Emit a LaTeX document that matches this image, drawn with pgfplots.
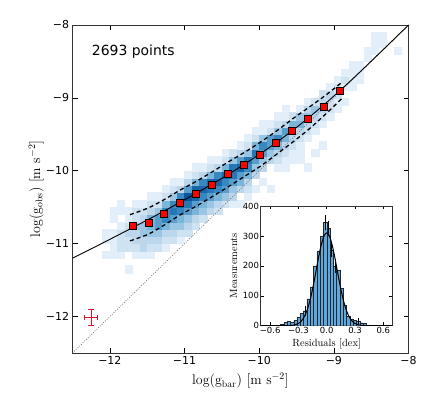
\documentclass[border=0pt]{standalone}
\usepackage{fontspec}
\usepackage{pgfplots}
\usepackage{pgfplotstable}
\pgfplotsset{compat=1.18}
\newfontfamily\dejavu{DejaVu Sans}
\definecolor{histblue}{RGB}{93,168,224}
\definecolor{errred}{RGB}{220,20,50}

\pgfplotstableread{
x y c
-12.05 -11.15 1
-12.05 -10.95 1
-12.05 -10.85 1
-11.95 -11.15 1
-11.95 -11.05 1
-11.95 -10.95 1
-11.95 -10.85 1
-11.95 -10.65 1
-11.95 -10.55 1
-11.85 -11.15 1
-11.85 -11.05 2
-11.85 -10.95 2
-11.85 -10.85 2
-11.85 -10.75 1
-11.85 -10.55 1
-11.85 -10.45 1
-11.75 -11.35 1
-11.75 -11.05 2
-11.75 -10.95 2
-11.75 -10.85 3
-11.75 -10.75 2
-11.75 -10.65 1
-11.75 -10.55 1
-11.65 -11.15 1
-11.65 -11.05 2
-11.65 -10.95 3
-11.65 -10.85 3
-11.65 -10.75 4
-11.65 -10.65 2
-11.65 -10.55 2
-11.65 -10.45 1
-11.55 -11.15 1
-11.55 -11.05 3
-11.55 -10.95 3
-11.55 -10.85 4
-11.55 -10.75 4
-11.55 -10.65 3
-11.55 -10.55 2
-11.55 -10.45 1
-11.45 -11.15 1
-11.45 -11.05 2
-11.45 -10.95 3
-11.45 -10.85 4
-11.45 -10.75 5
-11.45 -10.65 5
-11.45 -10.55 3
-11.45 -10.45 2
-11.45 -10.35 1
-11.35 -11.05 2
-11.35 -10.95 3
-11.35 -10.85 4
-11.35 -10.75 6
-11.35 -10.65 6
-11.35 -10.55 4
-11.35 -10.45 2
-11.35 -10.35 1
-11.25 -11.05 1
-11.25 -10.95 2
-11.25 -10.85 3
-11.25 -10.75 5
-11.25 -10.65 7
-11.25 -10.55 7
-11.25 -10.45 5
-11.25 -10.35 2
-11.25 -10.25 1
-11.15 -10.95 2
-11.15 -10.85 3
-11.15 -10.75 4
-11.15 -10.65 6
-11.15 -10.55 8
-11.15 -10.45 7
-11.15 -10.35 4
-11.15 -10.25 2
-11.15 -10.15 1
-11.05 -10.95 1
-11.05 -10.85 2
-11.05 -10.75 4
-11.05 -10.65 5
-11.05 -10.55 7
-11.05 -10.45 9
-11.05 -10.35 7
-11.05 -10.25 3
-11.05 -10.15 1
-10.95 -10.85 2
-10.95 -10.75 3
-10.95 -10.65 4
-10.95 -10.55 6
-10.95 -10.45 8
-10.95 -10.35 10
-10.95 -10.25 6
-10.95 -10.15 3
-10.95 -10.05 1
-10.85 -10.75 2
-10.85 -10.65 3
-10.85 -10.55 5
-10.85 -10.45 6
-10.85 -10.35 9
-10.85 -10.25 9
-10.85 -10.15 5
-10.85 -10.05 2
-10.85 -9.95 1
-10.75 -10.65 2
-10.75 -10.55 4
-10.75 -10.45 5
-10.75 -10.35 7
-10.75 -10.25 9
-10.75 -10.15 7
-10.75 -10.05 3
-10.75 -9.95 1
-10.65 -10.55 3
-10.65 -10.45 4
-10.65 -10.35 6
-10.65 -10.25 8
-10.65 -10.15 9
-10.65 -10.05 5
-10.65 -9.95 2
-10.65 -9.85 1
-10.55 -10.55 2
-10.55 -10.45 3
-10.55 -10.35 5
-10.55 -10.25 7
-10.55 -10.15 9
-10.55 -10.05 7
-10.55 -9.95 3
-10.55 -9.85 1
-10.45 -10.45 2
-10.45 -10.35 4
-10.45 -10.25 6
-10.45 -10.15 7
-10.45 -10.05 9
-10.45 -9.95 5
-10.45 -9.85 2
-10.45 -9.75 1
-10.35 -10.45 1
-10.35 -10.35 3
-10.35 -10.25 4
-10.35 -10.15 6
-10.35 -10.05 8
-10.35 -9.95 8
-10.35 -9.85 4
-10.35 -9.75 2
-10.25 -10.45 1
-10.25 -10.25 3
-10.25 -10.15 5
-10.25 -10.05 6
-10.25 -9.95 9
-10.25 -9.85 6
-10.25 -9.75 3
-10.25 -9.65 1
-10.15 -10.35 1
-10.15 -10.25 2
-10.15 -10.15 3
-10.15 -10.05 5
-10.15 -9.95 7
-10.15 -9.85 8
-10.15 -9.75 4
-10.15 -9.65 2
-10.15 -9.55 1
-10.05 -10.25 1
-10.05 -10.05 3
-10.05 -9.95 4
-10.05 -9.85 6
-10.05 -9.75 8
-10.05 -9.65 5
-10.05 -9.55 2
-10.05 -9.45 1
-9.95 -10.15 1
-9.95 -9.95 3
-9.95 -9.85 4
-9.95 -9.75 6
-9.95 -9.65 7
-9.95 -9.55 4
-9.95 -9.45 1
-9.95 -9.35 1
-9.85 -10.25 1
-9.85 -9.85 3
-9.85 -9.75 4
-9.85 -9.65 6
-9.85 -9.55 6
-9.85 -9.45 2
-9.85 -9.35 1
-9.75 -9.95 1
-9.75 -9.85 2
-9.75 -9.75 3
-9.75 -9.65 5
-9.75 -9.55 7
-9.75 -9.45 4
-9.75 -9.35 2
-9.75 -9.25 1
-9.65 -9.95 1
-9.65 -9.85 1
-9.65 -9.75 2
-9.65 -9.65 3
-9.65 -9.55 5
-9.65 -9.45 6
-9.65 -9.35 3
-9.65 -9.25 1
-9.65 -9.15 1
-9.55 -9.85 1
-9.55 -9.75 1
-9.55 -9.65 2
-9.55 -9.55 3
-9.55 -9.45 5
-9.55 -9.35 5
-9.55 -9.25 2
-9.45 -9.85 1
-9.45 -9.75 1
-9.45 -9.65 1
-9.45 -9.55 2
-9.45 -9.45 3
-9.45 -9.35 5
-9.45 -9.25 4
-9.45 -9.15 1
-9.35 -9.95 1
-9.35 -9.55 1
-9.35 -9.45 2
-9.35 -9.35 3
-9.35 -9.25 4
-9.35 -9.15 3
-9.35 -9.05 1
-9.25 -9.75 1
-9.25 -9.45 1
-9.25 -9.35 2
-9.25 -9.25 3
-9.25 -9.15 4
-9.25 -9.05 2
-9.15 -9.65 1
-9.15 -9.35 1
-9.15 -9.25 2
-9.15 -9.15 3
-9.15 -9.05 3
-9.15 -8.95 2
-9.05 -9.25 1
-9.05 -9.15 2
-9.05 -9.05 2
-9.05 -8.95 3
-9.05 -8.85 1
-8.95 -9.15 1
-8.95 -9.05 1
-8.95 -8.95 2
-8.95 -8.85 2
-8.95 -8.75 1
-8.85 -9.05 1
-8.85 -8.85 1
-8.85 -8.75 2
-8.85 -8.65 1
-8.75 -8.85 1
-8.75 -8.75 1
-8.75 -8.65 1
-8.75 -8.55 1
-8.65 -8.75 1
-8.65 -8.65 1
-8.65 -8.55 1
-8.55 -8.45 1
-8.55 -8.35 1
-8.45 -8.35 1
-8.45 -8.25 1
-8.45 -8.15 1
-8.35 -8.25 1
-8.35 -8.15 1
-8.15 -8.35 1
}\cells

\begin{document}
\begin{tikzpicture}
\begin{axis}[
  at={(0,0)}, anchor=south west, scale only axis,
  width=336bp, height=328bp,
  xmin=-12.5, xmax=-8, ymin=-12.5, ymax=-8,
  clip marker paths=true,
  xtick={-12,-11,-10,-9,-8}, xticklabels={−12,−11,−10,−9,−8},
  ytick={-12,-11,-10,-9,-8}, yticklabels={−12,−11,−10,−9,−8},
  tick align=inside, major tick length=5bp,
  tick style={black, line width=0.6bp},
  axis line style={black!80, line width=0.8bp},
  ticklabel style={font=\dejavu\fontsize{11}{13}\selectfont},
  xlabel={$\log(\mathrm{g}_{\mathrm{bar}})\ [\mathrm{m\ s}^{-2}]$},
  ylabel={$\log(\mathrm{g}_{\mathrm{obs}})\ [\mathrm{m\ s}^{-2}]$},
  label style={font=\fontsize{14}{16}\selectfont},
  xlabel style={at={(axis description cs:0.5,-0.085)}, anchor=center},
  ylabel style={at={(axis description cs:-0.108,0.5)}, anchor=center},
  colormap={histblues}{rgb255(0pt)=(247,251,255) rgb255(1pt)=(226,238,249) rgb255(3pt)=(188,214,236) rgb255(5pt)=(122,182,218) rgb255(7pt)=(55,135,192) rgb255(10pt)=(8,84,158)},
  point meta min=0, point meta max=10,
]
\addplot[scatter, only marks, mark=square*, mark size=3.6bp, point meta=explicit,
  scatter/use mapped color={draw=mapped color, fill=mapped color}] table[x=x, y=y, meta=c] {\cells};
\addplot[black!55, line width=0.8bp, dash pattern=on 0.8bp off 1.6bp] coordinates {(-12.5,-12.5) (-8,-8)};
\addplot[black, line width=0.9bp, smooth] coordinates {
(-12.5,-11.199) (-12.25,-11.071) (-12,-10.941) (-11.75,-10.809) (-11.5,-10.676) (-11.25,-10.539) (-11,-10.399) (-10.75,-10.254) (-10.5,-10.104) (-10.25,-9.945) (-10,-9.777) (-9.75,-9.598) (-9.5,-9.405) (-9.25,-9.197) (-9,-8.975) (-8.75,-8.741) (-8.5,-8.497) (-8.25,-8.250) (-8,-8.0)};
\addplot[black, line width=1.3bp, dash pattern=on 4bp off 3bp, smooth] coordinates {
(-11.73,-10.602) (-11.485,-10.510) (-11.27,-10.394) (-11.055,-10.263) (-10.84,-10.144) (-10.625,-10.012) (-10.41,-9.877) (-10.195,-9.746) (-9.98,-9.605) (-9.765,-9.452) (-9.55,-9.286) (-9.335,-9.130) (-9.12,-8.972) (-8.88,-8.776)};
\addplot[black, line width=1.3bp, dash pattern=on 4bp off 3bp, smooth] coordinates {
(-11.73,-10.962) (-11.485,-10.870) (-11.27,-10.744) (-11.055,-10.603) (-10.84,-10.484) (-10.625,-10.352) (-10.41,-10.217) (-10.195,-10.076) (-9.98,-9.935) (-9.765,-9.772) (-9.55,-9.606) (-9.335,-9.430) (-9.12,-9.232) (-8.88,-8.996)};
\addplot[only marks, mark=square*, mark size=3.5bp, mark options={fill=red, draw=black, line width=0.5bp}] coordinates {
(-11.696,-10.761) (-11.482,-10.711) (-11.272,-10.587) (-11.058,-10.436) (-10.844,-10.322) (-10.630,-10.185) (-10.415,-10.047) (-10.201,-9.914) (-9.987,-9.777) (-9.772,-9.616) (-9.558,-9.447) (-9.344,-9.291) (-9.129,-9.122) (-8.915,-8.907)};
% typical error bar (cross with caps)
\addplot[errred, line width=0.9bp] coordinates {(-12.335,-12.01) (-12.169,-12.01)};
\addplot[errred, line width=0.9bp] coordinates {(-12.252,-12.117) (-12.252,-11.903)};
\addplot[errred, line width=0.9bp] coordinates {(-12.335,-12.048) (-12.335,-11.972)};
\addplot[errred, line width=0.9bp] coordinates {(-12.169,-12.048) (-12.169,-11.972)};
\addplot[errred, line width=0.9bp] coordinates {(-12.29,-12.117) (-12.214,-12.117)};
\addplot[errred, line width=0.9bp] coordinates {(-12.29,-11.903) (-12.214,-11.903)};
\end{axis}

\node[anchor=base west, inner sep=0pt, font=\dejavu\fontsize{14}{16}\selectfont] at (19.2bp,297.3bp) {2693 points};

\begin{axis}[
  at={(188.2bp,27.3bp)}, anchor=south west, scale only axis,
  width=132bp, height=119.7bp,
  xmin=-0.7, xmax=0.7, ymin=0, ymax=400,
  clip marker paths=true,
  xtick={-0.6,-0.3,0,0.3,0.6}, xticklabels={−0.6,−0.3,0.0,0.3,0.6},
  ytick={0,100,200,300,400}, yticklabels={0,100,200,300,400},
  tick align=inside, major tick length=3.5bp,
  tick style={black, line width=0.5bp},
  axis line style={black!80, line width=0.8bp},
  axis background/.style={fill=white},
  ticklabel style={font=\dejavu\fontsize{8.5}{10}\selectfont, inner sep=1.5bp},
  xlabel={Residuals [dex]}, ylabel={Measurements},
  label style={font=\fontsize{10.5}{12}\selectfont},
  xlabel style={at={(axis description cs:0.5,-0.155)}, anchor=center},
  ylabel style={at={(axis description cs:-0.205,0.5)}, anchor=center},
]
\addplot[ybar, bar width=0.035, fill=histblue, draw=black!85, line width=0.3bp] coordinates {
(-0.5775,2) (-0.5425,0) (-0.5075,1) (-0.4725,4) (-0.4375,12) (-0.4025,14) (-0.3675,12) (-0.3325,18) (-0.2975,28) (-0.2625,42) (-0.2275,50) (-0.1925,90) (-0.1575,130) (-0.1225,200) (-0.0875,250) (-0.0525,300) (-0.0175,345) (0.0175,325) (0.0525,253) (0.0875,200) (0.1225,185) (0.1575,125) (0.1925,70) (0.2275,32) (0.2625,22) (0.2975,18) (0.3325,14) (0.3675,10) (0.4025,8) (0.4375,3) (0.4725,1)};
\addplot[black, line width=1bp, smooth] coordinates {
(-0.7,0) (-0.5,0.01) (-0.45,0.07) (-0.4,0.42) (-0.35,1.97) (-0.3,7.52) (-0.275,13.6) (-0.25,23.4) (-0.225,38.3) (-0.2,59.4) (-0.175,87.5) (-0.15,122.3) (-0.125,162.5) (-0.1,205.1) (-0.075,245.7) (-0.05,279.6) (-0.025,302.1) (0,310) (0.025,302.1) (0.05,279.6) (0.075,245.7) (0.1,205.1) (0.125,162.5) (0.15,122.3) (0.175,87.5) (0.2,59.4) (0.225,38.3) (0.25,23.4) (0.275,13.6) (0.3,7.52) (0.35,1.97) (0.4,0.42) (0.45,0.07) (0.5,0.01) (0.7,0)};
\addplot[black, only marks, mark=*, mark options={draw opacity=0, fill opacity=0}, mark size=2.5bp,
  error bars/.cd, y dir=both, y explicit,
  error bar style={black, line width=0.8bp}, error mark options={black, line width=0.8bp, mark size=2.5bp}] coordinates {
(-0.2275,50) +- (0,9) (-0.0175,345) +- (0,18) (0.0175,325) +- (0,18) (0.0525,253) +- (0,16) (0.0875,200) +- (0,14) (0.3325,14) +- (0,4)};
\end{axis}

\pgfresetboundingbox
\path (-72.5bp,-40bp) rectangle (356.5bp,353bp);
\end{tikzpicture}
\end{document}
